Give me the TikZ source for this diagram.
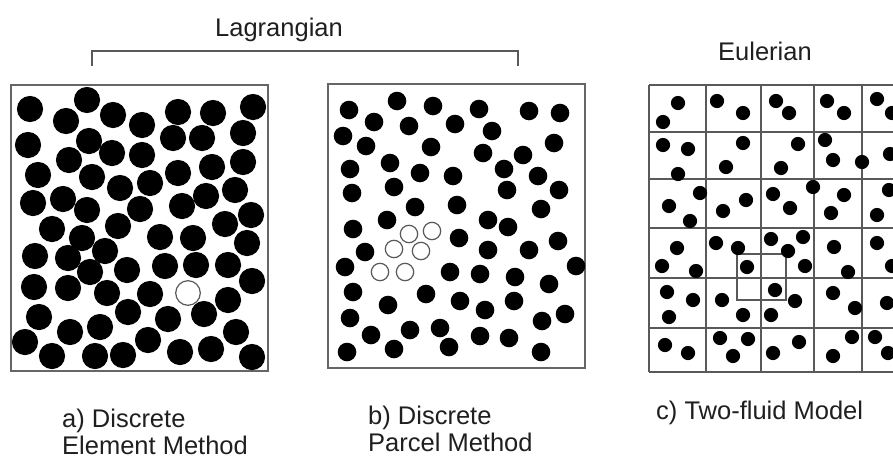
\documentclass[tikz,border=0pt]{standalone}
\usepackage{fontspec}
\setmainfont{Liberation Sans}
\begin{document}
\begin{tikzpicture}[x=1pt,y=-1pt,
  frame/.style={draw=black!60,line width=1.6pt},
  grid/.style={draw=black!65,line width=1.4pt},
  lbl/.style={anchor=base west,inner sep=0pt,font=\fontsize{25.5}{28}\selectfont,text=black!88},
  opencirc/.style={draw=black!65,line width=1.2pt,fill=white}]
\useasboundingbox[fill=white] (0,0) rectangle (893,458);
% ---- titles
\node[lbl] (lag) at (215,36) {Lagrangian};
\node[lbl] (eul) at (718,60) {Eulerian};
\coordinate (brL) at (92,66);
\coordinate (brR) at (518,66);
\draw[black!65,line width=1.4pt] (brL) -- ++(0,-15) -| (brR);
% ---- panel a
\draw[frame] (11,85) rectangle (268,371);
\foreach \p in {(30,109),(87,100),(66,121),(113,115),(142,125),(178,112),(213,113),(253,107),
(28,145),(89,141),(173,138),(202,138),(243,133),
(69,160),(112,153),(142,155),
(38,175),(92,177),(212,167),(243,162),(178,173),(150,183),(120,188),
(33,203),(63,199),(87,210),(140,209),(182,206),(206,196),(235,190),(251,215),
(225,224),
(52,229),(82,238),(118,226),(160,237),(193,238),(247,243),
(35,256),(68,258),(105,251),(90,272),(127,270),(165,266),(196,265),(228,265),(252,281),
(34,287),(68,288),(107,293),(150,294),(228,300),
(39,317),(128,312),(168,319),(204,314),(100,327),(70,332),(236,332),
(25,342),(148,340),(52,356),(95,356),(123,355),(180,352),(211,349),(252,357)}
  \fill[black] \p circle (13.1);
\draw[opencirc] (188,293) circle (12.3);
% ---- panel b
\draw[frame] (328,84) rectangle (585,368);
\foreach \p in {(349,110),(397,101),(433,106),(479,109),(529,111),(560,113),
(374,122),(409,126),(455,124),(492,131),
(343,136),(366,146),(431,147),(483,153),(523,155),(554,143),
(350,169),(390,163),(420,173),(453,176),(504,169),(538,176),
(352,193),(394,187),(507,190),(559,190),
(415,207),(457,205),(541,209),
(387,220),(488,220),
(353,229),(508,227),
(459,238),(365,252),(488,250),(529,250),(558,241),
(345,267),(450,272),(480,274),(515,277),(576,266),(549,284),
(353,292),(426,294),(460,301),(388,305),(485,310),(514,301),
(350,318),(565,314),(542,321),
(410,330),(440,328),(371,335),(480,336),(509,338),
(347,352),(394,349),(449,347),(541,352)}
  \fill[black] \p circle (9.3);
\foreach \p in {(409,234),(432,231),(394,249),(421,251),(380,272),(405,272)}
  \draw[opencirc] \p circle (8.7);
% ---- panel c
\begin{scope}
\clip (0,0) rectangle (893,458);
\foreach \yy in {85,132,179,228,278,328,372}
  \draw[grid] (649,\yy) -- (900,\yy);
\foreach \xx in {649,706,761,814,862}
  \draw[grid] (\xx,85) -- (\xx,372);
\draw[grid] (737,254) rectangle (786,300);
\foreach \p in {(678,103),(663,122),(717,101),(743,113),(776,101),(789,113),(827,101),(844,113),(877,99),(892,113),
(663,145),(688,149),(678,174),(743,143),(726,167),(798,144),(781,168),(825,140),(833,160),(862,162),(890,154),
(700,193),(669,206),(690,221),(746,200),(723,211),(773,194),(790,208),(813,187),(844,195),(831,213),(889,190),(877,215),
(803,237),
(677,248),(662,266),(696,271),(716,243),(738,248),(747,267),(771,239),(788,251),(805,266),(834,247),(848,272),(877,243),(892,266),
(667,292),(693,300),(669,317),(722,300),(743,315),(775,290),(795,301),(771,315),(833,293),(855,308),(887,303),
(665,345),(688,353),(720,338),(748,339),(733,356),(773,353),(799,342),(852,337),(875,337),(833,356),(888,353)}
  \fill[black] \p circle (7.1);
\end{scope}
% ---- captions
\node[lbl] (a1) at (62,427) {a) Discrete};
\node[lbl] (a2) at (62,454) {Element Method};
\node[lbl] (b1) at (368,424) {b) Discrete};
\node[lbl] (b2) at (368,451) {Parcel Method};
\node[lbl] (c1) at (656,419) {c) Two-fluid Model};
\end{tikzpicture}
\end{document}
